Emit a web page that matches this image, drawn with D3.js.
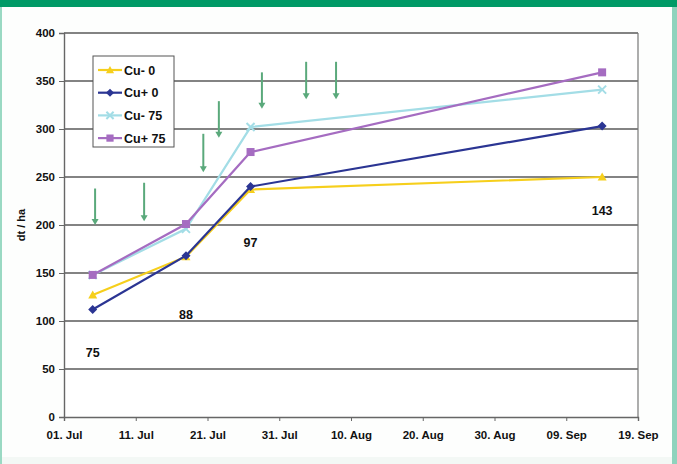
<!DOCTYPE html>
<html><head><meta charset="utf-8">
<script src="https://cdn.jsdelivr.net/npm/d3@7"></script>
<style>
html,body{margin:0;padding:0;background:#fff;}
svg{display:block;font-family:"Liberation Sans",Arial,sans-serif;}
</style></head>
<body><svg id="c" width="677" height="464"></svg>
<script>
// ---- data ----
const dates = ["2007-07-05 00","2007-07-18 00","2007-07-27 00","2007-09-14 00"];
const seriesNames = ["Cu- 0","Cu+ 0","Cu- 75","Cu+ 75"];
const cuMinus0 = [127, 167, 237, 250];
const cuPlus0  = [112, 168, 240, 303];
const cuMinus75 = [148, 196, 302, 341];
const cuPlus75 = [148, 201, 276, 359];
const dayLabels = ["75","88","97","143"];
const dayLabelValues = [62, 102, 177, 210];
const arrowDates = ["2007-07-05 08","2007-07-12 04","2007-07-20 10","2007-07-22 14","2007-07-28 14","2007-08-03 18","2007-08-07 22"];
const arrowTop = [238, 244, 295, 329, 359, 370, 370];
const arrowBottom = [200, 204, 255, 291, 321, 331, 331];
const xTickLabels = ["01. Jul","11. Jul","21. Jul","31. Jul","10. Aug","20. Aug","30. Aug","09. Sep","19. Sep"];
const yTicks = [0,50,100,150,200,250,300,350,400];

const colors = ["#f6cf1c","#2b3593","#a3dde6","#a56cc1"];
const markers = ["triangle","diamond","cross","square"];
const allSeries = [cuMinus0, cuPlus0, cuMinus75, cuPlus75];

const parse = d3.timeParse("%Y-%m-%d %H");
const svg = d3.select("#c");

// frame decorations
svg.append("rect").attr("x",0).attr("y",0).attr("width",677).attr("height",464).attr("fill","#fdfefd");
svg.append("rect").attr("x",0).attr("y",0).attr("width",677).attr("height",7).attr("fill","#009a66");
svg.append("rect").attr("x",672).attr("y",7).attr("width",5).attr("height",457).attr("fill","#8fd3bd");
svg.append("rect").attr("x",0).attr("y",7).attr("width",2).attr("height",457).attr("fill","#9ad9c3");
svg.append("rect").attr("x",2).attr("y",457).attr("width",670).attr("height",7).attr("fill","#f3f8f5");

const x = d3.scaleTime().domain([parse("2007-07-01 00"), parse("2007-09-19 00")]).range([64, 638]);
const y = d3.scaleLinear().domain([0,400]).range([417, 33]);

const tickDates = d3.timeDay.range(parse("2007-07-01 00"), parse("2007-09-20 00"), 10);

// plot background
svg.append("rect").attr("x",64).attr("y",33).attr("width",574).attr("height",384).attr("fill","#fff");

// gridlines
svg.append("g").selectAll("line").data(yTicks.filter(d=>d>0)).join("line")
  .attr("x1",64).attr("x2",638).attr("y1",d=>y(d)).attr("y2",d=>y(d))
  .attr("stroke","#5a5a5a").attr("stroke-width",1.4);
// right border
svg.append("line").attr("x1",638).attr("x2",638).attr("y1",y(400)).attr("y2",y(0))
  .attr("stroke","#777").attr("stroke-width",1.2);

// y axis
const yAxis = svg.append("g").attr("transform","translate(64,0)")
  .call(d3.axisLeft(y).tickValues(yTicks).tickSize(5).tickPadding(4).tickFormat(d3.format("d")));
yAxis.select(".domain").attr("stroke","#666").attr("stroke-width",1.4);
yAxis.selectAll(".tick line").attr("stroke","#666");
yAxis.selectAll("text").attr("font-size",11.5).attr("font-weight","bold").attr("fill","#111");

// x axis
const xAxis = svg.append("g").attr("transform","translate(0,417)")
  .call(d3.axisBottom(x).tickValues(tickDates).tickSize(4).tickPadding(10)
    .tickFormat((d,i)=>xTickLabels[i]));
xAxis.select(".domain").attr("stroke","#666").attr("stroke-width",1.4);
xAxis.selectAll(".tick line").attr("stroke","#666");
xAxis.selectAll("text").attr("font-size",11.5).attr("font-weight","bold").attr("fill","#111");

// y title
svg.append("text").attr("transform","translate(25,225) rotate(-90)")
  .attr("text-anchor","middle").attr("font-size",11).attr("font-weight","bold").attr("fill","#111")
  .text("dt / ha");

// arrows
const arrowG = svg.append("g");
arrowDates.forEach((d,i)=>{
  const ax = x(parse(d)), y1 = y(arrowTop[i]), y2 = y(arrowBottom[i]);
  arrowG.append("line").attr("x1",ax).attr("x2",ax).attr("y1",y1).attr("y2",y2-3)
    .attr("stroke","#5aa97b").attr("stroke-width",2);
  arrowG.append("path").attr("d",`M${ax-3.5},${y2-6}L${ax+3.5},${y2-6}L${ax},${y2}Z`).attr("fill","#5aa97b");
});

// marker drawing
function drawMarker(g, type, cx, cy, color, s){
  s = s || 1;
  if(type==="triangle") g.append("path").attr("d",`M${cx},${cy-4.5*s}L${cx+4.5*s},${cy+3.5*s}L${cx-4.5*s},${cy+3.5*s}Z`).attr("fill",color);
  else if(type==="diamond") g.append("path").attr("d",`M${cx},${cy-4.5*s}L${cx+4.5*s},${cy}L${cx},${cy+4.5*s}L${cx-4.5*s},${cy}Z`).attr("fill",color);
  else if(type==="square") g.append("rect").attr("x",cx-4*s).attr("y",cy-4*s).attr("width",8*s).attr("height",8*s).attr("fill",color);
  else if(type==="cross") g.append("path").attr("d",`M${cx-4*s},${cy-4*s}L${cx+4*s},${cy+4*s}M${cx-4*s},${cy+4*s}L${cx+4*s},${cy-4*s}`).attr("stroke",color).attr("stroke-width",2);
}

const line = d3.line().x((d,i)=>x(parse(dates[i]))).y(d=>y(d));
allSeries.forEach((vals,si)=>{
  const g = svg.append("g");
  g.append("path").attr("d",line(vals)).attr("fill","none").attr("stroke",colors[si]).attr("stroke-width",2.2);
  vals.forEach((v,i)=>drawMarker(g, markers[si], x(parse(dates[i])), y(v), colors[si]));
});

// day labels
svg.append("g").selectAll("text").data(dayLabels).join("text")
  .attr("x",(d,i)=>x(parse(dates[i]))).attr("y",(d,i)=>y(dayLabelValues[i]))
  .attr("text-anchor","middle").attr("font-size",12.5).attr("font-weight","bold").attr("fill","#111")
  .text(d=>d);

// legend
const lg = svg.append("g");
lg.append("rect").attr("x",93).attr("y",56).attr("width",81).attr("height",91)
  .attr("fill","#fff").attr("stroke","#555").attr("stroke-width",1);
seriesNames.forEach((n,i)=>{
  const ly = 70 + i*22.7;
  lg.append("line").attr("x1",98).attr("x2",122).attr("y1",ly).attr("y2",ly).attr("stroke",colors[i]).attr("stroke-width",2.2);
  drawMarker(lg, markers[i], 110, ly, colors[i], 0.9);
  lg.append("text").attr("x",124).attr("y",ly+4.5).attr("font-size",12.5).attr("font-weight","bold").attr("fill","#111").text(n);
});
</script></body></html>
